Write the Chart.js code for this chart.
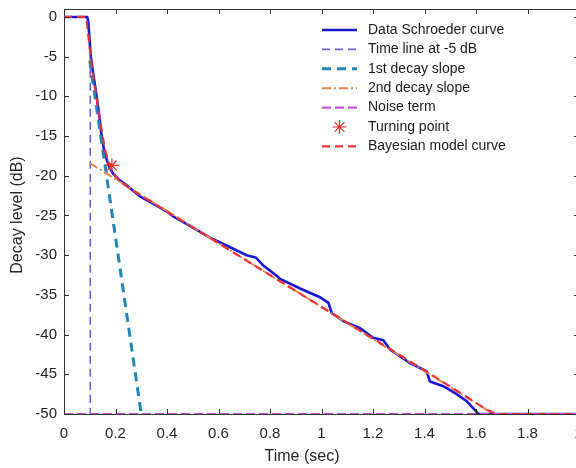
<!DOCTYPE html>
<html>
<head>
<meta charset="utf-8">
<script src="https://cdn.jsdelivr.net/npm/chart.js@4.4.0/dist/chart.umd.min.js"></script>
<style>
html, body { margin: 0; padding: 0; background: #fff; overflow: hidden; width: 576px; height: 468px; }
canvas { display: block; }
</style>
</head>
<body>
<canvas id="decay-chart" width="590" height="468"></canvas>
<script>
// values: time in seconds, level in dB
const schroederTime = [0, 0.090, 0.094, 0.104, 0.115, 0.127, 0.137, 0.146, 0.158, 0.175, 0.190, 0.210,
    0.243, 0.295, 0.346, 0.400, 0.423, 0.489, 0.567, 0.645, 0.709, 0.745, 0.760, 0.774, 0.826, 0.839,
    0.917, 0.994, 1.027, 1.040, 1.085, 1.150, 1.200, 1.240, 1.266, 1.344, 1.408, 1.421, 1.473, 1.525,
    1.564, 1.596, 1.610, 2.0];
const schroederLevel = [0, 0, -0.5, -5.0, -7.5, -10.0, -12.5, -15.0, -17.2, -18.8, -19.7, -20.4,
    -21.2, -22.6, -23.5, -24.5, -25.1, -26.3, -27.8, -29.0, -30.0, -30.3, -30.8, -31.3, -32.6, -33.0,
    -34.2, -35.3, -36.0, -37.3, -38.3, -39.2, -40.4, -40.7, -41.9, -43.6, -44.6, -45.9, -46.5, -47.5,
    -48.4, -49.5, -50, -50];

const timeLineTime = [0.102, 0.102];
const timeLineLevel = [-5, -50];

const firstSlopeTime = [0.1, 0.3];
const firstSlopeLevel = [-5.5, -50];

const secondSlopeTime = [0.1, 1.668];
const secondSlopeLevel = [-18.4, -50];

const noiseTime = [0, 2];
const noiseLevel = [-50, -50];

const turningTime = [0.186];
const turningLevel = [-18.7];

const modelTime = [0, 0.085, 0.088, 0.095, 0.104, 0.116, 0.128, 0.140, 0.150, 0.160, 0.175, 0.190,
    0.210, 0.250, 0.300, 0.500, 0.800, 1.000, 1.200, 1.400, 1.600, 1.650, 1.680, 2.0];
const modelLevel = [0, 0, -0.5, -2.5, -5.2, -8.0, -10.5, -13.0, -15.0, -16.8, -18.5, -19.6,
    -20.5, -21.5, -22.5, -26.5, -32.5, -36.5, -40.5, -44.5, -48.6, -49.6, -50, -50];

const xTicks = [0, 0.2, 0.4, 0.6, 0.8, 1, 1.2, 1.4, 1.6, 1.8, 2];
const xTickLabels = ['0', '0.2', '0.4', '0.6', '0.8', '1', '1.2', '1.4', '1.6', '1.8', '2'];
const yTicks = [-50, -45, -40, -35, -30, -25, -20, -15, -10, -5, 0];
const yTickLabels = ['-50', '-45', '-40', '-35', '-30', '-25', '-20', '-15', '-10', '-5', '0'];

const FONT = '"Liberation Sans", Arial, sans-serif';
const AXIS_COLOR = '#333333';

function toPoints(xs, ys) {
    return xs.map((x, i) => ({x: x, y: ys[i]}));
}

function lineSet(label, xs, ys, color, width, dash) {
    return {
        label: label,
        data: toPoints(xs, ys),
        showLine: true,
        borderColor: color,
        backgroundColor: color,
        borderWidth: width,
        borderDash: dash,
        pointRadius: 0,
        fill: false
    };
}

let datasets = [
    lineSet('Data Schroeder curve', schroederTime, schroederLevel, '#1818d0', 2.6, []),
    lineSet('Time line at -5 dB', timeLineTime, timeLineLevel, '#6c60d4', 1.6, [8, 5]),
    lineSet('1st decay slope', firstSlopeTime, firstSlopeLevel, '#1f86b6', 3, [9, 6]),
    lineSet('2nd decay slope', secondSlopeTime, secondSlopeLevel, '#dd8850', 2, [9, 3, 2, 3]),
    lineSet('Noise term', noiseTime, noiseLevel, '#c456d4', 2.2, [9, 4]),
    {
        label: 'Turning point',
        data: toPoints(turningTime, turningLevel),
        showLine: false,
        pointStyle: 'star',
        pointRadius: 7,
        borderColor: '#e8302a',
        backgroundColor: '#e8302a',
        borderWidth: 1.2
    },
    lineSet('Bayesian model curve', modelTime, modelLevel, '#e8333a', 2.2, [8, 5])
];
// later series sit on top, like in the original plot
datasets.forEach((ds, i) => { ds.order = datasets.length - i; });

// legend drawn inside the plot, without a box
const insideLegend = {
    id: 'insideLegend',
    afterDraw(chart) {
        const ctx = chart.ctx;
        const x0 = 322, x1 = 357, textX = 368, top = 30, rowH = 19.4;
        chart.data.datasets.forEach((ds, i) => {
            const y = top + i * rowH;
            ctx.save();
            ctx.strokeStyle = ds.borderColor;
            ctx.lineWidth = ds.borderWidth;
            if (ds.showLine === false) {
                const cx = (x0 + x1) / 2, r = ds.pointRadius;
                ctx.beginPath();
                for (let k = 0; k < 4; k++) {
                    const a = k * Math.PI / 4;
                    ctx.moveTo(cx - r * Math.cos(a), y - r * Math.sin(a));
                    ctx.lineTo(cx + r * Math.cos(a), y + r * Math.sin(a));
                }
                ctx.stroke();
            } else {
                ctx.setLineDash(ds.borderDash);
                ctx.beginPath();
                ctx.moveTo(x0, y);
                ctx.lineTo(x1, y);
                ctx.stroke();
            }
            ctx.setLineDash([]);
            ctx.fillStyle = '#1a1a1a';
            ctx.font = '14px ' + FONT;
            ctx.textBaseline = 'middle';
            ctx.textAlign = 'left';
            ctx.fillText(ds.label, textX, y);
            ctx.restore();
        });
    }
};

// box on all four sides, ticks pointing inwards, axis titles
const matlabAxes = {
    id: 'matlabAxes',
    afterDraw(chart) {
        const ctx = chart.ctx;
        const area = chart.chartArea;
        const xs = chart.scales.x, ys = chart.scales.y;
        const len = 5;
        ctx.save();
        ctx.strokeStyle = AXIS_COLOR;
        ctx.lineWidth = 1;
        ctx.beginPath();
        ctx.moveTo(area.left, area.top + 0.5);
        ctx.lineTo(area.right, area.top + 0.5);
        ctx.moveTo(area.right - 0.5, area.top);
        ctx.lineTo(area.right - 0.5, area.bottom);
        xTicks.forEach(v => {
            const px = Math.round(xs.getPixelForValue(v)) + 0.5;
            ctx.moveTo(px, area.bottom);
            ctx.lineTo(px, area.bottom - len);
            ctx.moveTo(px, area.top);
            ctx.lineTo(px, area.top + len);
        });
        yTicks.forEach(v => {
            const py = Math.round(ys.getPixelForValue(v)) + 0.5;
            ctx.moveTo(area.left, py);
            ctx.lineTo(area.left + len, py);
            ctx.moveTo(area.right, py);
            ctx.lineTo(area.right - len, py);
        });
        ctx.stroke();

        ctx.fillStyle = '#262626';
        ctx.font = '16px ' + FONT;
        ctx.textAlign = 'center';
        ctx.textBaseline = 'middle';
        ctx.fillText('Time (sec)', 302, 457);
        ctx.translate(18, 215);
        ctx.rotate(-Math.PI / 2);
        ctx.fillText('Decay level (dB)', 0, 0);
        ctx.restore();
    }
};

Chart.defaults.font.family = FONT;
Chart.defaults.font.size = 15;
Chart.defaults.color = '#262626';

new Chart(document.getElementById('decay-chart'), {
    type: 'scatter',
    data: {datasets: datasets},
    options: {
        responsive: false,
        animation: false,
        devicePixelRatio: 1,
        layout: {padding: {top: 9, right: 11, left: 0, bottom: 0}},
        plugins: {
            legend: {display: false},
            tooltip: {enabled: false}
        },
        scales: {
            x: {
                type: 'linear',
                min: 0,
                max: 2,
                afterBuildTicks: s => { s.ticks = xTicks.map(v => ({value: v})); },
                afterFit: s => {
                    s.height = 54;
                    s.paddingLeft = 0;
                    s.paddingRight = 0;
                },
                ticks: {
                    callback: (v, i) => xTickLabels[i],
                    padding: 11,
                    maxRotation: 0,
                    autoSkip: false
                },
                grid: {drawOnChartArea: false, drawTicks: false},
                border: {color: AXIS_COLOR, width: 1}
            },
            y: {
                type: 'linear',
                min: -50,
                max: 1,
                afterBuildTicks: s => { s.ticks = yTicks.map(v => ({value: v})); },
                afterFit: s => {
                    s.width = 64;
                    s.paddingTop = 0;
                    s.paddingBottom = 0;
                },
                ticks: {
                    callback: (v, i) => yTickLabels[i],
                    padding: 7,
                    autoSkip: false
                },
                grid: {drawOnChartArea: false, drawTicks: false},
                border: {color: AXIS_COLOR, width: 1}
            }
        }
    },
    plugins: [insideLegend, matlabAxes]
});
</script>
</body>
</html>
